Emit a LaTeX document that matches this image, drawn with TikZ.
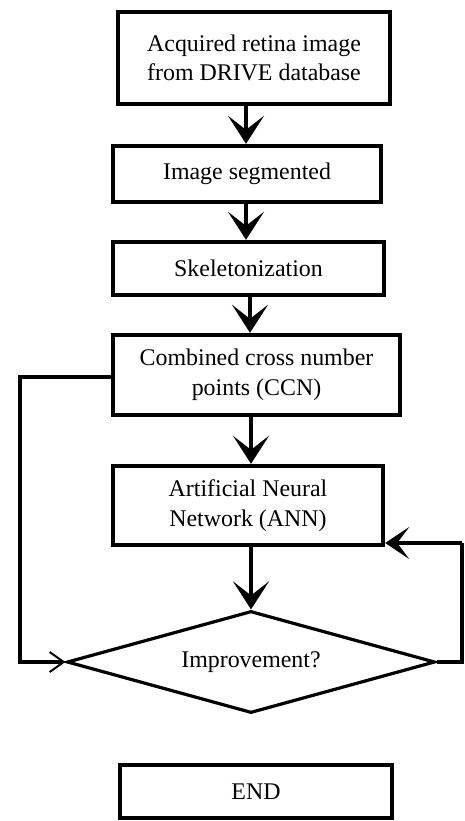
\documentclass[tikz,border=0pt]{standalone}
\usepackage{fontspec}
\setmainfont{Liberation Serif}
\usetikzlibrary{arrows.meta,positioning,calc,shapes.geometric}

\tikzset{
  >=Stealth,
  every node/.append style={font=\fontsize{17}{21}\selectfont},
}

\begin{document}
\begin{tikzpicture}[
  x=0.25mm, y=-0.25mm,
  % --- Styles ---
  stage/.style={
    rectangle, draw=black, line width=1.1mm, fill=white,
    align=center, inner sep=2pt
  },
  decision/.style={
    diamond, draw=black, line width=0.8mm, fill=white,
    aspect=3.6, inner sep=0pt, align=center
  },
  flow/.style={-{Stealth[length=7mm, width=9mm, inset=3.5mm]}, line width=1.1mm},
  loopline/.style={line width=1.1mm},
  loopin/.style={-{Straight Barb[length=3.5mm, width=5mm, line width=0.5mm]}, line width=1.1mm}
]
\useasboundingbox (0,0) rectangle (465,821);

% ---- Main column ----
\node[stage, minimum width=68mm, minimum height=23mm] (acq) at (254,58)
  {Acquired retina image\\from DRIVE database};
\node[stage, minimum width=67mm, minimum height=14mm] (seg) at (247,174)
  {Image segmented};
\node[stage, minimum width=67.75mm, minimum height=13.25mm] (skel) at (248.5,268.5)
  {Skeletonization};
\node[stage, minimum width=71.75mm, minimum height=20mm] (ccn) at (256.5,375)
  {Combined cross number\\points (CCN)};
\node[stage, minimum width=67.5mm, minimum height=19.75mm] (ann) at (248,505.5)
  {Artificial Neural\\Network (ANN)};
\node[decision, minimum width=92mm, minimum height=25.5mm] (impr) at (251,662)
  {Improvement?};
\node[stage, line width=0.9mm, minimum width=68mm, minimum height=13.25mm] (end) at (256,791.5)
  {END};

% ---- Downward flow ----
\draw[flow] (acq.south -| 246,0) -- (seg.north -| 246,0);
\draw[flow] (seg.south -| 246,0) -- (skel.north -| 246,0);
\draw[flow] (skel.south -| 250,0) -- (ccn.north -| 250,0);
\draw[flow] (ccn.south -| 251,0) -- (ann.north -| 251,0);
\draw[flow] (ann.south -| 251,0) -- (impr.north);

% ---- Left loop (CCN to decision) ----
\coordinate (lcorner) at (20,377);
\draw[loopin] (ccn.west |- lcorner) -- (lcorner) |- (impr.west);

% ---- Right loop (decision back to ANN) ----
\coordinate (rcorner) at (462,543);
\draw[loopline] (impr.east) -| (rcorner);
\draw[-{Stealth[length=6mm, width=8mm, inset=3mm]}, line width=1.1mm]
  (rcorner) -- (ann.east |- rcorner);

\end{tikzpicture}
\end{document}
